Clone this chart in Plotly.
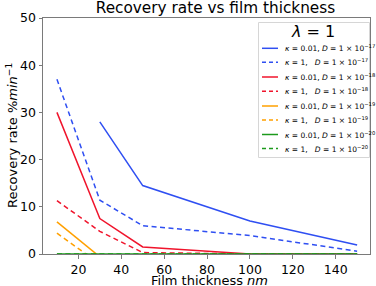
import plotly.graph_objects as go

thickness = [10, 30, 50, 100, 150]
blue_solid = [None, 28.0, 14.5, 7.0, 1.9]
blue_dash = [37.0, 11.4, 6.0, 3.9, 0.6]
red_solid = [30.0, 7.5, 1.5, 0.0, 0.0]
red_dash = [11.3, 4.8, 0.3, 0.0, 0.0]
orange_solid = [6.8, -0.6, None, None, None]
orange_dash = [4.4, -2.1, None, None, None]
green_solid = [0.0, 0.0, 0.0, 0.0, 0.0]
green_dash = [0.0, 0.0, 0.0, 0.0, 0.0]

names = [
    "<i>κ</i> = 0.01, <i>D</i> = 1 × 10<sup>−17</sup>",
    "<i>κ</i> = 1,   <i>D</i> = 1 × 10<sup>−17</sup>",
    "<i>κ</i> = 0.01, <i>D</i> = 1 × 10<sup>−18</sup>",
    "<i>κ</i> = 1,   <i>D</i> = 1 × 10<sup>−18</sup>",
    "<i>κ</i> = 0.01, <i>D</i> = 1 × 10<sup>−19</sup>",
    "<i>κ</i> = 1,   <i>D</i> = 1 × 10<sup>−19</sup>",
    "<i>κ</i> = 0.01, <i>D</i> = 1 × 10<sup>−20</sup>",
    "<i>κ</i> = 1,   <i>D</i> = 1 × 10<sup>−20</sup>",
]
legend_title = "<i>λ</i> = 1"
title_text = "Recovery rate vs film thickness"
x_title = "Film thickness <i>nm</i>"
y_title = "Recovery rate %<i>min</i><sup>−1</sup>"
x_ticks = [20, 40, 60, 80, 100, 120, 140]
y_ticks = [0, 10, 20, 30, 40, 50]

series = [blue_solid, blue_dash, red_solid, red_dash,
          orange_solid, orange_dash, green_solid, green_dash]
colors = ["#2f4ff2", "#2f4ff2", "#f0142c", "#f0142c",
          "#ffa000", "#ffa000", "#1c9a1c", "#1c9a1c"]
dashes = ["solid", "5px,3.5px"] * 4

W, H = 376, 286
L, R, T, B = 43, 6, 18, 32
pw, ph = W - L - R, H - T - B


def px(x):
    return (x - L) / pw


def py(y):
    return (H - B - y) / ph


fig = go.Figure()
for n, s, c, d in zip(names, series, colors, dashes):
    fig.add_trace(go.Scatter(x=thickness, y=s, name=n, mode="lines",
                             line=dict(color=c, dash=d, width=1.5),
                             connectgaps=False, showlegend=False))

shapes = [dict(type="rect", xref="paper", yref="paper",
               x0=px(258.5), x1=px(369.5), y0=py(157.5), y1=py(22.5),
               line=dict(color="#d6d6d6", width=1), fillcolor="rgba(255,255,255,0.8)",
               layer="above")]
annotations = [
    dict(text=legend_title, xref="paper", yref="paper",
         x=px(313), y=py(32), xanchor="center", yanchor="middle",
         showarrow=False, font=dict(size=16)),
    dict(text=x_title, xref="paper", yref="paper",
         x=px(209), y=py(280), xanchor="center", yanchor="middle",
         showarrow=False, font=dict(size=13)),
    dict(text=y_title, xref="paper", yref="paper", textangle=-90,
         x=px(12), y=py(136), xanchor="center", yanchor="middle",
         showarrow=False, font=dict(size=13)),
]
rows = [48.3, 62.3, 77.0, 91.3, 106.0, 120.0, 134.5, 148.5]
for n, c, d, yy in zip(names, colors, dashes, rows):
    shapes.append(dict(type="line", xref="paper", yref="paper",
                       x0=px(262), x1=px(278), y0=py(yy), y1=py(yy),
                       line=dict(color=c, width=1.5, dash="solid" if d == "solid" else "4px,3px"),
                       layer="above"))
    annotations.append(dict(text=n, xref="paper", yref="paper",
                            x=px(283), y=py(yy), xanchor="left", yanchor="middle",
                            showarrow=False, font=dict(size=7.5)))

axis_common = dict(showgrid=False, zeroline=False, showline=True, mirror=True,
                   linecolor="#7a7a7a", linewidth=1, ticks="outside", ticklen=3.5,
                   tickcolor="#7a7a7a", tickfont=dict(size=12.5), automargin=False)

fig.update_layout(
    width=W, height=H,
    margin=dict(l=L, r=R, t=T, b=B, autoexpand=False),
    paper_bgcolor="white", plot_bgcolor="white",
    font=dict(family="DejaVu Sans", color="black"),
    showlegend=False,
    title=dict(text=title_text, x=0.573, xanchor="center",
               y=0.992, yanchor="top", font=dict(size=15.3)),
    xaxis=dict(range=[3.5, 156], tickvals=x_ticks, **axis_common),
    yaxis=dict(range=[0, 50], tickvals=y_ticks, **axis_common),
    shapes=shapes,
    annotations=annotations,
)

fig.write_html("out.html", config={"displayModeBar": False},
               post_script="document.body.style.margin='0';")
